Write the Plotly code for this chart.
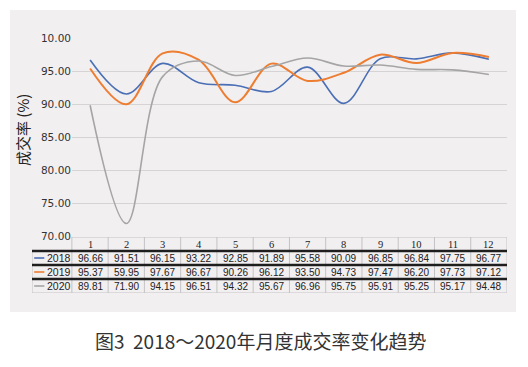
import plotly.graph_objects as go

months = list(range(1, 13))
month_labels = [str(m) for m in months]
series_names = ["2018", "2019", "2020"]
v2018 = [96.66, 91.51, 96.15, 93.22, 92.85, 91.89, 95.58, 90.09, 96.85, 96.84, 97.75, 96.77]
v2019 = [95.37, 89.95, 97.67, 96.67, 90.26, 96.12, 93.50, 94.73, 97.47, 96.20, 97.73, 97.12]
v2020 = [89.81, 71.90, 94.15, 96.51, 94.32, 95.67, 96.96, 95.75, 95.91, 95.25, 95.17, 94.48]
# table text as printed in the source (2019 Feb is printed as 59.95)
t2018 = ["96.66", "91.51", "96.15", "93.22", "92.85", "91.89", "95.58", "90.09", "96.85", "96.84", "97.75", "96.77"]
t2019 = ["95.37", "59.95", "97.67", "96.67", "90.26", "96.12", "93.50", "94.73", "97.47", "96.20", "97.73", "97.12"]
t2020 = ["89.81", "71.90", "94.15", "96.51", "94.32", "95.67", "96.96", "95.75", "95.91", "95.25", "95.17", "94.48"]
y_ticks = [70, 75, 80, 85, 90, 95, 100]
y_ticktext = ["70.00", "75.00", "80.00", "85.00", "90.00", "95.00", "10.00"]
colors = ["#4a6fb5", "#ed7d31", "#a5a5a5"]
values = [v2018, v2019, v2020]
texts = [t2018, t2019, t2020]

OFF = 8  # page body margin
W, H = 528 - OFF, 367 - OFF
ML, MR, MT, MB = 32 - OFF, W - (507 - OFF), 38 - OFF, H - (293 - OFF)
pw = W - ML - MR
ph = H - MT - MB


def px_x(p):  # page px -> paper x
    return (p - OFF - ML) / pw


def px_y(p):  # page px -> paper y
    return (H - MB - (p - OFF)) / ph


fig = go.Figure()
for name, vals, col in zip(series_names, values, colors):
    fig.add_trace(go.Scatter(
        x=months, y=vals, mode="lines", name=name,
        line=dict(color=col, width=2 if name == "2019" else 1.6, shape="spline", smoothing=1.0),
        xaxis="x", yaxis="y", showlegend=False))

fig.add_trace(go.Scatter(x=[0], y=[0], mode="markers", marker=dict(opacity=0),
                         xaxis="x2", yaxis="y2", showlegend=False, hoverinfo="skip"))

fig.update_layout(
    width=W, height=H,
    margin=dict(l=ML, r=MR, t=MT, b=MB),
    paper_bgcolor="white", plot_bgcolor="rgba(0,0,0,0)",
    xaxis=dict(domain=[px_x(72), 1], range=[0.5, 12.5], showticklabels=False,
               showgrid=False, zeroline=False, showline=False, ticks=""),
    yaxis=dict(domain=[px_y(236), 1], range=[70, 100], tickvals=y_ticks, ticktext=y_ticktext,
               showgrid=True, gridcolor="#d6d3d5", gridwidth=1, zeroline=False,
               tickfont=dict(family="DejaVu Sans", size=10.5, color="#333333"), ticks="",
               automargin=False),
    xaxis2=dict(domain=[0, 1], range=[-0.6, 12.5], visible=False, anchor="y2"),
    yaxis2=dict(domain=[0, px_y(237)], range=[3.5, -0.5], visible=False, anchor="x2"),
)

shapes = []
shapes.append(dict(type="rect", xref="paper", yref="paper",
                   x0=px_x(10), x1=px_x(516), y0=px_y(312), y1=px_y(10),
                   fillcolor="#f2eff1", line=dict(width=0), layer="below"))
grid_col = "#c4c2c4"
for i in range(13):
    xb = i + 0.5
    shapes.append(dict(type="line", xref="x2", yref="y2", x0=xb, x1=xb, y0=-0.5, y1=3.5,
                       line=dict(color=grid_col, width=1)))
shapes.append(dict(type="line", xref="x2", yref="y2", x0=-0.6, x1=-0.6, y0=0.5, y1=3.5,
                   line=dict(color=grid_col, width=1)))
shapes.append(dict(type="line", xref="x2", yref="y2", x0=0.5, x1=12.5, y0=-0.5, y1=-0.5,
                   line=dict(color=grid_col, width=1)))
shapes.append(dict(type="line", xref="x2", yref="y2", x0=-0.6, x1=12.5, y0=3.5, y1=3.5,
                   line=dict(color=grid_col, width=1)))
for r in range(3):
    shapes.append(dict(type="line", xref="x2", yref="y2", x0=-0.6, x1=12.5, y0=r + 0.5, y1=r + 0.5,
                       line=dict(color="#1e1e1e", width=2.5)))
for r, col in enumerate(colors):
    shapes.append(dict(type="line", xref="x2", yref="y2", x0=-0.54, x1=-0.26, y0=r + 1, y1=r + 1,
                       line=dict(color=col, width=1.6)))
fig.update_layout(shapes=shapes)

ann = []
for m, lab in zip(months, month_labels):
    ann.append(dict(x=m, y=0, xref="x2", yref="y2", text=lab, showarrow=False,
                    font=dict(family="Liberation Serif", size=10.5, color="#222222")))
for r, (name, tx) in enumerate(zip(series_names, texts)):
    ann.append(dict(x=-0.25, y=r + 1, xref="x2", yref="y2", text=name, showarrow=False,
                    xanchor="left", font=dict(family="Liberation Sans", size=10.5, color="#222222")))
    for m, t in zip(months, tx):
        ann.append(dict(x=m, y=r + 1, xref="x2", yref="y2", text=t, showarrow=False,
                        font=dict(family="Liberation Sans", size=10, color="#222222")))
ann.append(dict(x=px_x(22), y=px_y(130), xref="paper", yref="paper",
                xanchor="center", yanchor="middle",
                text="成交率 (%)", textangle=-90, showarrow=False,
                font=dict(family="Noto Sans CJK SC", size=15, color="#222222")))
ann.append(dict(x=px_x(260), y=px_y(340), xref="paper", yref="paper",
                xanchor="center", yanchor="middle",
                text="图3\u00a0\u00a02018～2020年月度成交率变化趋势", showarrow=False,
                font=dict(family="Noto Sans CJK SC", size=19, color="#333333")))
fig.update_layout(annotations=ann)

fig.write_html("out.html")
